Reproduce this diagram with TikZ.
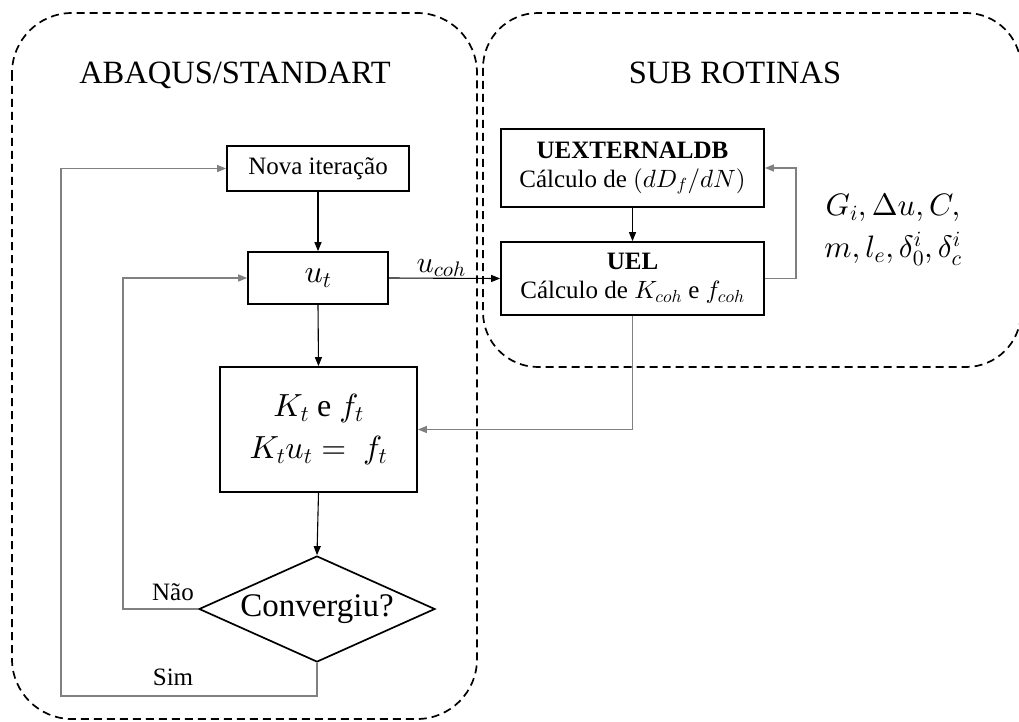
\documentclass[tikz,border=0pt]{standalone}
\usepackage{fontspec}
\setmainfont{Liberation Serif}
% scalable math fonts at any size
\DeclareFontShape{OML}{cmm}{m}{it}{<->cmmi10}{}
\DeclareFontShape{OMS}{cmsy}{m}{n}{<->cmsy10}{}
\DeclareFontShape{OT1}{cmr}{m}{n}{<->cmr10}{}
\DeclareFontShape{OMX}{cmex}{m}{n}{<->cmex10}{}
\usetikzlibrary{arrows.meta,shapes.geometric,calc}
\definecolor{linegray}{gray}{0.5}
\begin{document}
\begin{tikzpicture}[x=1pt,y=-1pt,
  txt/.style={font=\fontsize{25}{29}\selectfont},
  mth/.style={font=\fontsize{32}{38}\selectfont},
  title/.style={font=\fontsize{32.5}{38}\selectfont},
  boxnode/.style={draw,line width=1.7pt,inner sep=0pt,align=center},
  region/.style={draw,line width=1.7pt,dash pattern=on 8pt off 5pt},
  conn/.style={line width=1.1pt,-{Triangle[length=9pt,width=7pt]}},
  back/.style={draw=linegray,line width=1.3pt},
  backarrow/.style={back,-{Triangle[length=9pt,width=7pt]}}
]
\useasboundingbox (0,0) rectangle (1019,722);
\begin{scope}
\clip (0,0) rectangle (1019,722);
% the two dashed regions
\draw[region,rounded corners=60pt] (12,13) rectangle (477,719);
\draw[region,rounded corners=55pt] (483,13) rectangle (1021,367);
\end{scope}

\node[title] (tabaqus) at (235,75) {ABAQUS/STANDART};
\node[title] (tsub) at (735,73) {SUB ROTINAS};

% solver loop
\node[boxnode,txt,minimum width=182pt,minimum height=45pt] (nova) at (318,168.5) {Nova iteração};
\node[boxnode,mth,minimum width=140pt,minimum height=52pt] (ut) at (318,278) {$u_t$};
\node[boxnode,mth,minimum width=197pt,minimum height=125pt] (kt) at (318.5,429.5)
  {$K_t$ e $f_t$\\[4pt] $K_tu_t =\ f_t$};
\node[draw,line width=1.7pt,shape=diamond,aspect=2.23,inner sep=0pt,
  minimum width=236pt,minimum height=106pt,font=\fontsize{33}{38}\selectfont] (conv) at (317,609) {Convergiu?};

% subroutines
\node[boxnode,txt,minimum width=263pt,minimum height=78pt] (uext) at (632.5,168)
  {\textbf{UEXTERNALDB}\\ Cálculo de $(dD_f/dN)$};
\node[boxnode,txt,minimum width=263pt,minimum height=73pt] (uel) at (632.5,278.5)
  {\textbf{UEL}\\ Cálculo de $K_{coh}$ e $f_{coh}$};

\node[font=\fontsize{31}{36}\selectfont,align=center] (params) at (893,230)
  {$G_i, \Delta u, C,$\\[6pt] $m, l_e, \delta_0^i, \delta_c^i$};

% main flow
\draw[conn] (nova.south) -- (ut.north);
\draw[conn] (ut.south) -- (kt.north);
\draw[conn] (kt.south) -- (conv.north);
\draw[conn] (ut.east) -- node[above,font=\fontsize{30}{36}\selectfont,pos=0.47,inner sep=1pt] (lcoh) {$u_{coh}$} (uel.west);
\draw[conn] (uext.south) -- (uel.north);

% return paths
\coordinate (naoturn) at (123,609);
\coordinate (simturn) at (61,696);
\coordinate (uelturn) at (796,278.5);
\draw[backarrow] (conv.west) -- (naoturn) |- (ut.west);
\draw[backarrow] (conv.south) |- (simturn) |- (nova.west);
\draw[backarrow] (uel.east) -- (uelturn) |- (uext.east);
\draw[backarrow] (uel.south) |- (kt.east);

\node[txt] (lnao) at (173,592) {Não};
\node[txt] (lsim) at (173,677) {Sim};
\end{tikzpicture}
\end{document}
